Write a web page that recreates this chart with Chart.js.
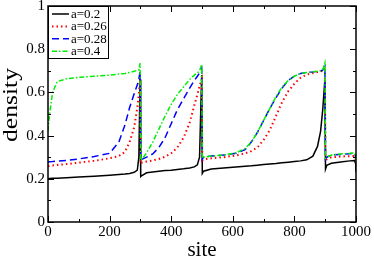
<!DOCTYPE html>
<html><head><meta charset="utf-8">
<script src="https://cdn.jsdelivr.net/npm/chart.js@4"></script>
<style>html,body{margin:0;padding:0;background:#fff}#wrap{width:374px;height:257px;position:relative}</style>
</head><body><div id="wrap"><canvas id="c" width="374" height="257"></canvas></div>
<script>
const sites = [0,5,15,30,60,100,150,200,230,250,265,280,290,295,299,301,305,320,340,360,380,400,420,440,460,475,485,492,499,501,505,530,570,610,640,660,680,700,720,740,760,780,800,820,840,860,875,885,892,899,901,905,920,950,980,995,999,1000];
const seriesLabels = ['a=0.2','a=0.26','a=0.28','a=0.4'];
const densA020 = [0.200,0.201,0.202,0.203,0.205,0.208,0.212,0.217,0.220,0.222,0.225,0.230,0.240,0.300,0.66,0.210,0.215,0.228,0.232,0.235,0.238,0.240,0.243,0.246,0.250,0.255,0.265,0.30,0.68,0.225,0.235,0.245,0.250,0.255,0.258,0.260,0.263,0.266,0.269,0.271,0.274,0.277,0.280,0.283,0.288,0.305,0.35,0.42,0.52,0.66,0.245,0.262,0.272,0.278,0.283,0.285,0.27,0.23];
const densA026 = [0.258,0.26,0.262,0.264,0.268,0.275,0.283,0.295,0.305,0.325,0.37,0.44,0.53,0.59,0.67,0.27,0.275,0.280,0.285,0.292,0.302,0.318,0.345,0.39,0.46,0.54,0.59,0.63,0.66,0.285,0.29,0.295,0.300,0.308,0.318,0.328,0.345,0.38,0.425,0.49,0.555,0.605,0.64,0.668,0.682,0.69,0.694,0.697,0.70,0.72,0.28,0.29,0.30,0.303,0.305,0.305,0.29,0.27];
const densA028 = [0.278,0.279,0.28,0.282,0.285,0.292,0.303,0.318,0.37,0.45,0.53,0.595,0.635,0.66,0.70,0.285,0.29,0.30,0.315,0.345,0.39,0.455,0.52,0.57,0.62,0.655,0.675,0.69,0.71,0.29,0.30,0.305,0.31,0.318,0.335,0.37,0.415,0.47,0.525,0.575,0.62,0.655,0.675,0.688,0.692,0.695,0.698,0.70,0.703,0.72,0.29,0.30,0.31,0.313,0.316,0.318,0.30,0.27];
const densA040 = [0.42,0.50,0.60,0.65,0.663,0.67,0.675,0.68,0.685,0.688,0.692,0.698,0.702,0.705,0.735,0.285,0.29,0.32,0.37,0.43,0.49,0.545,0.59,0.625,0.66,0.68,0.69,0.70,0.73,0.295,0.30,0.305,0.31,0.32,0.34,0.37,0.415,0.47,0.525,0.58,0.625,0.655,0.675,0.688,0.692,0.695,0.698,0.70,0.703,0.735,0.295,0.30,0.31,0.315,0.318,0.32,0.30,0.27];
const xTickLabels = ['0','200','400','600','800','1000'];
const yTickLabels = ['0','0.2','0.4','0.6','0.8','1'];
const xTitle = 'site';
const yTitle = 'density';

const SERIF = "'Liberation Serif','Times New Roman',serif";
const styles = [
  {color:'#000000', dash:[], width:1.5},
  {color:'#ff0000', dash:[1.5,3], width:2},
  {color:'#0000ff', dash:[7,4], width:1.5},
  {color:'#00ee00', dash:[5,2,1.5,2], width:1.5}
];
const seriesValues = [densA020, densA026, densA028, densA040];
const datasets = seriesValues.map((vals,i)=>({
  label: seriesLabels[i],
  data: sites.map((s,k)=>({x:s,y:vals[k]})),
  borderColor: styles[i].color,
  borderDash: styles[i].dash,
  borderWidth: styles[i].width,
  pointRadius: 0,
  fill: false,
  tension: 0
})).reverse();

const frameTicks = {
  id:'frameTicks',
  afterDatasetsDraw(chart){
    const {ctx, chartArea:a, scales:{x,y}} = chart;
    ctx.save();
    ctx.strokeStyle='#000'; ctx.lineWidth=1; ctx.setLineDash([]);
    const seg=(x1,y1,x2,y2)=>{ctx.beginPath();ctx.moveTo(x1,y1);ctx.lineTo(x2,y2);ctx.stroke();};
    for(let v=0; v<=1000; v+=100){
      const px=Math.round(x.getPixelForValue(v))+0.5; const L=(v%200===0)?6:3;
      seg(px,a.bottom,px,a.bottom-L); seg(px,a.top,px,a.top+L);
    }
    for(let k=0;k<=10;k++){
      const py=Math.round(y.getPixelForValue(k/10))+0.5; const L=(k%2===0)?6:3;
      seg(a.left,py,a.left+L,py); seg(a.right,py,a.right-L,py);
    }
    ctx.lineWidth=1.5;
    ctx.strokeRect(a.left,a.top,a.right-a.left,a.bottom-a.top);
    // legend
    const lx=a.left, ly=a.top, lw=60, lh=52;
    ctx.fillStyle='#fff'; ctx.fillRect(lx,ly,lw,lh);
    ctx.lineWidth=1; ctx.strokeRect(lx+0.5,ly+0.5,lw,lh);
    ctx.font="13px "+SERIF; ctx.textBaseline='middle'; ctx.textAlign='left';
    seriesLabels.forEach((lab,i)=>{
      const yy=ly+8+i*12.4;
      ctx.strokeStyle=styles[i].color; ctx.lineWidth=styles[i].width; ctx.setLineDash(styles[i].dash);
      seg(lx+4,yy,lx+21,yy);
      ctx.setLineDash([]);
      ctx.fillStyle='#000'; ctx.fillText(lab,lx+23,yy+0.5);
    });
    // y axis title (stretched along its length like the reference)
    ctx.save();
    ctx.translate(11,105);
    ctx.scale(1,1.22);
    ctx.rotate(-Math.PI/2);
    ctx.font="21px "+SERIF; ctx.textAlign='center'; ctx.textBaseline='middle'; ctx.fillStyle='#000';
    ctx.fillText(yTitle,0,0);
    ctx.restore();
    ctx.restore();
  }
};

new Chart(document.getElementById('c'),{
  type:'line',
  data:{datasets},
  options:{
    responsive:false, animation:false, devicePixelRatio:1,
    layout:{padding:{top:6,right:18,left:0,bottom:0}},
    plugins:{legend:{display:false}, tooltip:{enabled:false}},
    scales:{
      x:{type:'linear', min:0, max:1000,
        afterBuildTicks(s){ s.ticks = xTickLabels.map(t=>({value:Number(t)})); },
        afterFit(s){ s.height=35; s.paddingLeft=0; s.paddingRight=0; },
        grid:{display:false, drawTicks:false},
        border:{display:false},
        ticks:{padding:1, color:'#000', maxRotation:0, font:{family:SERIF,size:15},
          callback:(v,i)=>xTickLabels[i]},
        title:{display:true, text:xTitle, color:'#000', font:{family:SERIF,size:21,lineHeight:1}, padding:{top:0,bottom:-4}}
      },
      y:{type:'linear', min:0, max:1,
        afterBuildTicks(s){ s.ticks = yTickLabels.map(t=>({value:Number(t)})); },
        afterFit(s){ s.width=48; s.paddingTop=0; s.paddingBottom=0; },
        grid:{display:false, drawTicks:false},
        border:{display:false},
        ticks:{padding:3, color:'#000', font:{family:SERIF,size:15},
          callback:(v,i)=>yTickLabels[i]},
        title:{display:false}
      }
    }
  },
  plugins:[frameTicks]
});
</script></body></html>
